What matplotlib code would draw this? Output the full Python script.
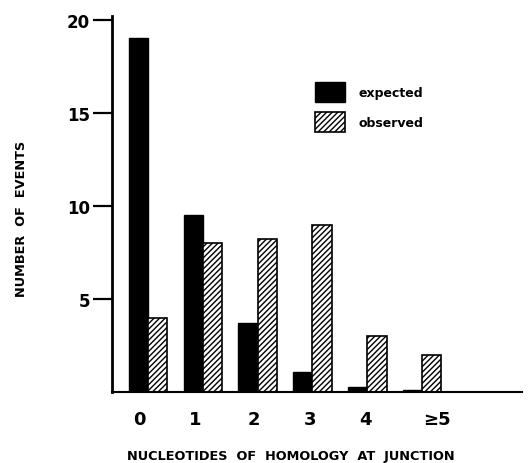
import matplotlib
matplotlib.use("Agg")
import matplotlib.pyplot as plt
import numpy as np

plt.rcParams['hatch.linewidth'] = 1.0

categories = ["0", "1", "2", "3", "4", "≥5"]
expected = [19.0, 9.5, 3.7, 1.1, 0.27, 0.13]
observed = [4.0, 8.0, 8.2, 9.0, 3.0, 2.0]
y_ticks = [5, 10, 15, 20]
label_offsets = [-0.15, -0.13, -0.07, -0.04, -0.04, 0.26]

fig = plt.figure(figsize=(5.29, 4.64), dpi=100)
ax = fig.add_axes([0.2117, 0.153, 0.7751, 0.810])

x = np.arange(len(categories))
w = 0.35
ax.bar(x - w / 2, expected, w, color="black", edgecolor="black", linewidth=1.0,
       label="expected")
ax.bar(x + w / 2, observed, w, color="white", edgecolor="black", linewidth=1.2,
       hatch="//////", label="observed")

ax.set_xlim(-0.655, 6.82)
ax.set_ylim(0, 20.2)

for s in ["top", "right"]:
    ax.spines[s].set_visible(False)
ax.spines["left"].set_linewidth(2.0)
ax.spines["bottom"].set_linewidth(1.5)

ax.set_yticks(y_ticks)
ax.set_yticklabels([str(v) for v in y_ticks], fontsize=12, fontweight="bold")
ax.tick_params(axis="y", direction="out", length=14, width=1.6, pad=2)

ax.set_xticks(x + np.array(label_offsets))
ax.set_xticklabels(categories, fontsize=13, fontweight="bold")
ax.tick_params(axis="x", length=0, pad=13)

ax.set_ylabel("NUMBER  OF  EVENTS", fontsize=9.3, fontweight="bold")
ax.set_xlabel("NUCLEOTIDES  OF  HOMOLOGY  AT  JUNCTION", fontsize=9.3,
              fontweight="bold")
ax.xaxis.set_label_coords(0.437, -0.152)
ax.yaxis.set_label_coords(-0.205, 0.463)

ax.legend(loc="upper left", bbox_to_anchor=(0.495, 0.825), frameon=False,
          prop={"size": 9, "weight": "bold"}, handlelength=2.4,
          handleheight=2.1, labelspacing=0.8,
          handletextpad=1.1, borderaxespad=0, borderpad=0)

fig.savefig("out.png", dpi=100)
